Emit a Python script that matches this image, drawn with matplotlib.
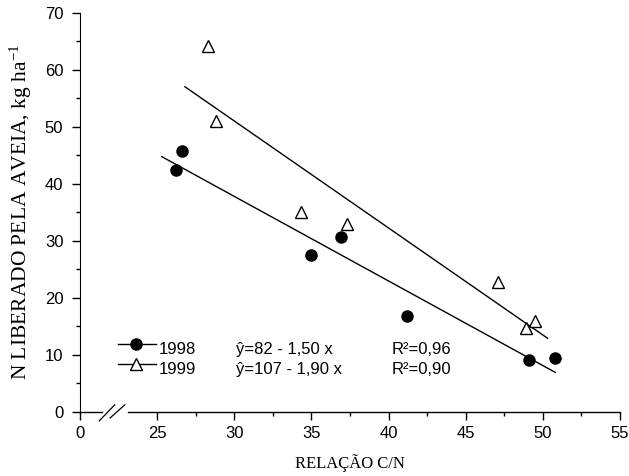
import numpy as np
import matplotlib
matplotlib.use("Agg")
import matplotlib.pyplot as plt
from matplotlib.ticker import MultipleLocator, FixedLocator

plt.rcParams['font.family'] = 'Liberation Sans'
plt.rcParams['mathtext.fontset'] = 'custom'
plt.rcParams['mathtext.rm'] = 'Liberation Serif'
plt.rcParams['mathtext.default'] = 'regular'

# relacao C/N e N liberado (kg/ha)
cn_1998 = [26.2, 26.6, 35.0, 36.9, 41.2, 49.1, 50.8]
n_1998 = [42.4, 45.7, 27.5, 30.6, 16.8, 9.1, 9.5]
cn_1999 = [28.3, 28.8, 34.3, 37.3, 47.1, 48.9, 49.5]
n_1999 = [64.2, 51.0, 35.0, 32.9, 22.8, 14.7, 15.9]

# faixa das retas ajustadas
fit_range_1998 = [25.3, 50.8]
fit_range_1999 = [26.8, 50.3]

eq_1998 = "ŷ=82 - 1,50 x"
eq_1999 = "ŷ=107 - 1,90 x"
r2_1998 = "R²=0,96"
r2_1999 = "R²=0,90"

xticks = [20, 25, 30, 35, 40, 45, 50, 55]
xticklabels = ["0", "25", "30", "35", "40", "45", "50", "55"]

fig = plt.figure(figsize=(6.29, 4.76), dpi=100)
ax = fig.add_axes([80/629, 1 - 411.7/476, 540/629, 399/476])

for x, y, xr, mk, fc in [(cn_1998, n_1998, fit_range_1998, 'o', 'black'),
                          (cn_1999, n_1999, fit_range_1999, '^', 'white')]:
    b, a = np.polyfit(x, y, 1)
    xl = np.array(xr)
    ax.plot(xl, a + b*xl, color='black', lw=1.0)
    ax.plot(x, y, linestyle='none', marker=mk, ms=8 if mk == 'o' else 8.5,
            mfc=fc, mec='black', mew=1.0, zorder=3)

ax.set_xlim(20, 55)
ax.set_ylim(0, 70)

ax.spines['top'].set_visible(False)
ax.spines['right'].set_visible(False)
ax.spines['bottom'].set_visible(False)

# eixo x quebrado
ax.plot([20, 21.4], [0, 0], color='black', lw=1.0, clip_on=False)
ax.plot([23.1, 55], [0, 0], color='black', lw=1.0, clip_on=False)
ax.plot([21.25, 22.25], [-1.6, 1.2], color='black', lw=0.9, clip_on=False)
ax.plot([21.95, 22.9], [-1.1, 1.2], color='black', lw=0.9, clip_on=False)

ax.xaxis.set_major_locator(FixedLocator(xticks))
ax.set_xticklabels(xticklabels)
ax.xaxis.set_minor_locator(FixedLocator([27.5, 32.5, 37.5, 42.5, 47.5, 52.5]))
ax.yaxis.set_major_locator(MultipleLocator(10))
ax.yaxis.set_minor_locator(MultipleLocator(5))
ax.tick_params(which='major', length=6, width=1.0, labelsize=12)
ax.tick_params(which='minor', length=3.2, width=1.0)
ax.tick_params(axis='x', pad=4)
ax.tick_params(axis='y', pad=6)

ax.set_xlabel("RELAÇÃO C/N", family='Liberation Serif', fontsize=12, labelpad=10)
ax.set_ylabel("N LIBERADO PELA AVEIA, kg ha$^{-1}$", family='Liberation Serif',
              fontsize=15.5, labelpad=8)

# legenda
tr = ax.transAxes
rows = [(0.170, 0.155, 'o', 'black', "1998", eq_1998, r2_1998),
        (0.119, 0.107, '^', 'white', "1999", eq_1999, r2_1999)]
for ym, yt, mk, fc, lab, eq, r2 in rows:
    ax.plot([0.070, 0.141], [ym, ym], color='black', lw=1.0, transform=tr)
    ax.plot([0.1045], [ym], marker=mk, ms=8 if mk == 'o' else 8.5, mfc=fc,
            mec='black', mew=1.0, transform=tr)
    ax.text(0.1456, yt, lab, transform=tr, fontsize=12, va='center')
    ax.text(0.2887, yt, eq, transform=tr, fontsize=12, va='center')
    ax.text(0.5768, yt, r2, transform=tr, fontsize=12, va='center')

fig.savefig("out.png", dpi=100)
